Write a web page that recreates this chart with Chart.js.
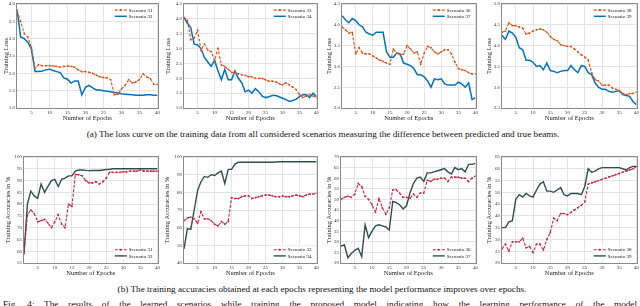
<!DOCTYPE html>
<html>
<head>
<meta charset="utf-8">
<script src="https://cdn.jsdelivr.net/npm/chart.js@4.4.1/dist/chart.umd.min.js"></script>
<style>
body { margin: 0; width: 640px; height: 306px; background: #fff; position: relative; overflow: hidden; font-family: "Liberation Serif", serif; }
canvas { position: absolute; }
.cap { position: absolute; font-size: 9.2px; line-height: 10px; white-space: nowrap; color: #111; text-align: center; }
</style>
</head>
<body>
<div class="cap" style="left:0;width:646px;top:129px">(a) The loss curve on the training data from all considered scenarios measuring the difference between predicted and true beams.</div>
<div class="cap" style="left:0;width:644px;top:284px">(b) The training accuracies obtained at each epochs representing the model performance improves over epochs.</div>
<div class="cap" style="left:3px;width:634px;top:299px;text-align:justify;text-align-last:justify">Fig. 4: The results of the learned scenarios while training the proposed model indicating how the learning performance of the model</div>
<script>
var epochs = [1,2,3,4,5,6,7,8,9,10,11,12,13,14,15,16,17,18,19,20,21,22,23,24,25,26,27,28,29,30,31,32,33,34,35,36,37,38,39,40];
var xTickVals = [5,10,15,20,25,30,35,40];

// training loss
var loss31 = [3.8,3.5,3.15,3.05,2.75, 2.15,2.25,2.22,2.22,2.22, 2.21,2.2,2.18,2.2,2.21, 2.2,2.18,2.1,2.05,2.05, 2.03,2.0,1.95,1.9,1.88, 1.87,1.82,1.38,1.4,1.55, 1.65,1.82,1.72,1.75,1.82, 1.98,1.9,1.85,1.68,1.68];
var loss32 = [3.85,3.05,3.0,2.9,2.7, 2.05,2.05,2.07,2.1,2.12, 2.08,2.05,2.02,1.87,1.83, 1.72,1.78,1.78,1.38,1.6, 1.65,1.58,1.52,1.52,1.5, 1.48,1.47,1.45,1.43,1.41, 1.4,1.39,1.38,1.37,1.37, 1.37,1.38,1.38,1.37,1.37];
var loss33 = [4.05,3.95,3.3,3.35,3.62, 2.95,3.15,2.95,2.9,2.6, 3.0,2.45,2.4,2.3,2.2, 2.2,2.15,2.12,2.1,2.05, 2.05,2.0,2.0,2.0,1.95, 1.9,1.9,1.88,1.82,1.78, 1.85,1.78,1.7,1.62,1.45, 1.35,1.4,1.45,1.4,1.35];
var loss34 = [4.05,3.85,3.7,3.15,3.12, 3.0,2.7,2.55,2.4,2.6, 2.25,1.95,2.3,1.95,1.95, 2.25,2.0,1.85,1.55,1.6, 1.5,1.65,1.55,1.4,1.35, 1.38,1.42,1.42,1.38,1.33, 1.28,1.22,1.25,1.3,1.38, 1.45,1.45,1.35,1.5,1.38];
var loss36 = [3.95,3.88,3.8,3.82,3.3, 3.45,3.32,3.3,3.3,3.25, 3.2,3.15,3.12,3.08,3.05, 3.42,3.32,3.28,3.3,3.5, 3.42,3.32,3.35,3.05,3.32, 3.48,3.45,3.35,3.3,3.35, 3.4,3.4,3.3,3.1,2.95, 2.92,2.9,2.85,2.82,2.82];
var loss37 = [4.22,4.12,4.05,4.15,4.1, 4.0,3.95,3.82,3.78,3.75, 3.82,3.82,3.82,3.35,3.22, 3.22,3.32,3.3,3.08,3.05, 3.02,2.95,2.8,2.8,2.75, 2.65,2.5,2.7,2.68,2.7, 2.58,2.55,2.55,2.55,2.62, 2.58,2.5,2.6,2.2,2.25];
var loss38 = [4.32,4.35,4.55,4.48,4.48, 4.45,4.42,4.28,4.3,4.35, 4.38,4.4,4.38,4.32,4.22, 4.15,4.12,4.02,4.0,3.98, 3.98,3.92,3.85,3.78,3.72, 3.65,3.35,3.18,3.15,3.05, 3.05,3.05,2.98,2.95,2.92, 2.85,2.82,2.85,2.85,2.88];
var loss39 = [4.25,4.15,4.35,4.3,4.2, 3.95,3.9,3.65,3.65,3.6, 3.5,3.52,3.42,3.58,3.4, 3.38,3.35,3.38,3.4,3.4, 3.52,3.42,3.35,3.52,3.5, 3.35,3.3,3.1,3.0,2.95, 2.95,2.9,2.88,2.9,2.92, 2.82,2.8,2.78,2.65,2.58];

// training accuracy (%)
var acc31 = [59,75.5,77.5,76,72.5, 73,73.5,72,70,72.5, 75.5,71.5,70,80,79, 92.5,92.5,92,90,89, 89,89.5,88.5,89.5,91, 93.5,93.5,93.5,93.5,93.7, 93.7,94,94,94,94.5, 94,94,94,94,94];
var acc32 = [59,80,85.5,83.5,82.5, 88.5,85,87.5,90,90.5, 87.5,90.5,91,92,92, 94,94.5,94.5,94.3,94.2, 94.3,94.3,94.3,94.5,94.7, 94.8,95,95,95,95, 95,95,95,95,95, 95,95,95,95,95];
var acc33 = [64,65.5,66,65,62.5, 69,65,65,64,62, 61,63.5,62,63.5,77, 76.5,76.5,77.5,78,78, 76.5,77,77.5,78,78.5, 78.5,78,77.5,77.5,78, 77.5,77.5,78,78.5,78, 77.5,78.5,79,79,79.5];
var acc34 = [48,59.5,59,70,81, 86,89,88.5,90,89.5, 91,92,85,93,93, 96,97,97,97,97, 97,97,97,97,97, 97,97,97.2,97.3,97.3, 97.3,97.3,97.3,97.3,97.3, 97.3,97.3,97.3,97.3,97.3];
var acc36 = [50,51,51.5,51,52.5, 57.5,56,51.5,50,47.5, 44,50.5,46,43,46, 54.5,54.5,53,51,51, 50.5,52.5,51,53,53, 59,58.5,59.5,59.5,60, 60,58.5,60.5,60.5,60.5, 60,60,58.5,60,61];
var acc37 = [28,28.5,22.5,24.5,26, 27,23,38,32,35, 37.5,38,37.5,37,35.5, 49,48.5,47.5,45.5,47, 53,57.5,60,60.5,58.5, 62.5,62.5,63,63.5,64, 64.5,63,62,65,64, 64.5,63,66.5,66.5,67];
var acc38 = [26,28,25,29,29, 29,30.5,26.5,27,24.5, 28,28,25.5,30,33, 39,38,41,41,40.5, 41.5,42.5,43.5,44.5,46, 53.5,54,54.5,55,55.5, 56,56.5,57,57.5,58, 58.5,59,59.5,60,61];
var acc39 = [35,35,37.5,38,47, 49,48,49.5,48.5,48, 51,53.5,54.5,50.5,50.5, 50,51,52,49,48.5, 49.5,49.5,49.5,49,52.5, 60,58.5,59,60,60.5, 60.5,60.5,60.5,60.5,60.5, 60,59.5,60.5,61,61];

var orange = 'rgb(217,83,25)';
var blue = 'rgb(0,114,189)';
var red = 'rgb(200,38,60)';
var slate = 'rgb(47,79,79)';
var serif = '"Liberation Serif", "Times New Roman", serif';
var gridColor = '#e4e4e4';

function pts(vals) {
    return vals.map(function(v, i) { return {x: epochs[i], y: v}; });
}

function dashed(label, vals, color) {
    return { label: label, data: pts(vals), borderColor: color, backgroundColor: color,
             borderWidth: 1.1, borderDash: [3, 1.5], pointRadius: 0.9, pointBorderWidth: 0,
             pointBackgroundColor: color, tension: 0, fill: false };
}
function solid(label, vals, color, w) {
    return { label: label, data: pts(vals), borderColor: color, backgroundColor: color,
             borderWidth: w, pointRadius: 0, tension: 0, fill: false };
}

// legend drawn inside the axes, MATLAB style
var insideLegend = {
    id: 'insideLegend',
    afterDatasetsDraw: function(chart, args, opts) {
        var ctx = chart.ctx, a = chart.chartArea, ds = chart.data.datasets;
        ctx.save();
        ctx.font = '5px ' + serif;
        var rowH = 6.2, tw = 0;
        ds.forEach(function(d) { tw = Math.max(tw, ctx.measureText(d.label).width); });
        var w = 15 + tw + 3, h = rowH * ds.length + 2;
        var x = a.right - w - 2;
        var y = opts.pos === 'bottom' ? a.bottom - h - 3 : a.top + 2;
        ctx.fillStyle = '#fff';
        ctx.fillRect(x, y, w, h);
        ds.forEach(function(d, i) {
            var cy = y + 1 + rowH * i + rowH / 2;
            ctx.strokeStyle = d.borderColor;
            ctx.lineWidth = d.borderWidth;
            ctx.setLineDash(d.borderDash || []);
            ctx.beginPath(); ctx.moveTo(x + 1, cy); ctx.lineTo(x + 13, cy); ctx.stroke();
            ctx.setLineDash([]);
            if (d.pointRadius) {
                ctx.fillStyle = d.borderColor;
                ctx.beginPath(); ctx.arc(x + 7, cy, 1, 0, Math.PI * 2); ctx.fill();
            }
            ctx.fillStyle = '#111';
            ctx.textBaseline = 'middle';
            ctx.fillText(d.label, x + 15, cy + 0.3);
        });
        ctx.restore();
    }
};

var frameBox = {
    id: 'frameBox',
    afterDraw: function(chart) {
        var ctx = chart.ctx, a = chart.chartArea;
        ctx.save();
        ctx.strokeStyle = '#8a8a8a';
        ctx.lineWidth = 1;
        ctx.strokeRect(Math.round(a.left) - 0.5, Math.round(a.top) - 0.5,
                       Math.round(a.right - a.left) + 1, Math.round(a.bottom - a.top) + 1);
        ctx.restore();
    }
};

function addPlot(box, yw, yAxis, yTitle, sets, legendPos) {
    var padT = 4, padR = 4, xh = 14;
    var c = document.createElement('canvas');
    c.width = yw + box[2] - box[0] + padR;
    c.height = padT + box[3] - box[1] + xh;
    c.style.left = (box[0] - yw) + 'px';
    c.style.top = (box[1] - padT) + 'px';
    document.body.appendChild(c);
    new Chart(c, {
        type: 'line',
        data: { datasets: sets },
        options: {
            responsive: false,
            animation: false,
            devicePixelRatio: 1,
            layout: { padding: { top: padT, right: padR, left: 0, bottom: 0 } },
            plugins: {
                legend: { display: false },
                tooltip: { enabled: false },
                insideLegend: { pos: legendPos }
            },
            scales: {
                x: {
                    type: 'linear', min: 1, max: 40,
                    afterBuildTicks: function(s) { s.ticks = xTickVals.map(function(v) { return {value: v}; }); },
                    afterFit: function(s) { s.height = xh; },
                    grid: { color: gridColor, drawTicks: false },
                    border: { display: false },
                    ticks: { font: { family: serif, size: 5 }, color: '#333', padding: 2, maxRotation: 0, autoSkip: false },
                    title: { display: true, text: 'Number of Epochs', font: { family: serif, size: 6.5 }, color: '#222', padding: 0 }
                },
                y: {
                    min: yAxis[0], max: yAxis[1],
                    afterFit: function(s) { s.width = yw; },
                    grid: { color: gridColor, drawTicks: false },
                    border: { display: false },
                    ticks: { stepSize: yAxis[2], font: { family: serif, size: 5 }, color: '#333', padding: 2 },
                    title: { display: true, text: yTitle, font: { family: serif, size: 6.5 }, color: '#222', padding: 0 }
                }
            }
        },
        plugins: [insideLegend, frameBox]
    });
}

var lossT = 'Training Loss', accT = 'Training Accuracies in %';

addPlot([17, 3, 158, 108], 15, [1, 4, 0.5], lossT,
        [dashed('Scenario 31', loss31, orange), solid('Scenario 32', loss32, blue, 1.5)], 'top');
addPlot([184, 3, 317, 108], 20, [1, 4.5, 0.5], lossT,
        [dashed('Scenario 33', loss33, orange), solid('Scenario 34', loss34, blue, 1.5)], 'top');
addPlot([342, 3, 476, 108], 17, [2, 4.5, 0.5], lossT,
        [dashed('Scenario 36', loss36, orange), solid('Scenario 37', loss37, blue, 1.5)], 'top');
addPlot([502, 3, 637, 108], 17, [2.5, 5, 0.5], lossT,
        [dashed('Scenario 38', loss38, orange), solid('Scenario 39', loss39, blue, 1.5)], 'top');

addPlot([24, 156, 158, 263], 20, [55, 100, 5], accT,
        [dashed('Scenario 31', acc31, red), solid('Scenario 32', acc32, slate, 1.4)], 'bottom');
addPlot([184, 156, 317, 263], 21, [40, 100, 10], accT,
        [dashed('Scenario 33', acc33, red), solid('Scenario 34', acc34, slate, 1.4)], 'bottom');
addPlot([341, 156, 476, 263], 16, [20, 70, 5], accT,
        [dashed('Scenario 36', acc36, red), solid('Scenario 37', acc37, slate, 1.4)], 'bottom');
addPlot([502, 156, 637, 263], 17, [20, 65, 5], accT,
        [dashed('Scenario 38', acc38, red), solid('Scenario 39', acc39, slate, 1.4)], 'bottom');
</script>
</body>
</html>
